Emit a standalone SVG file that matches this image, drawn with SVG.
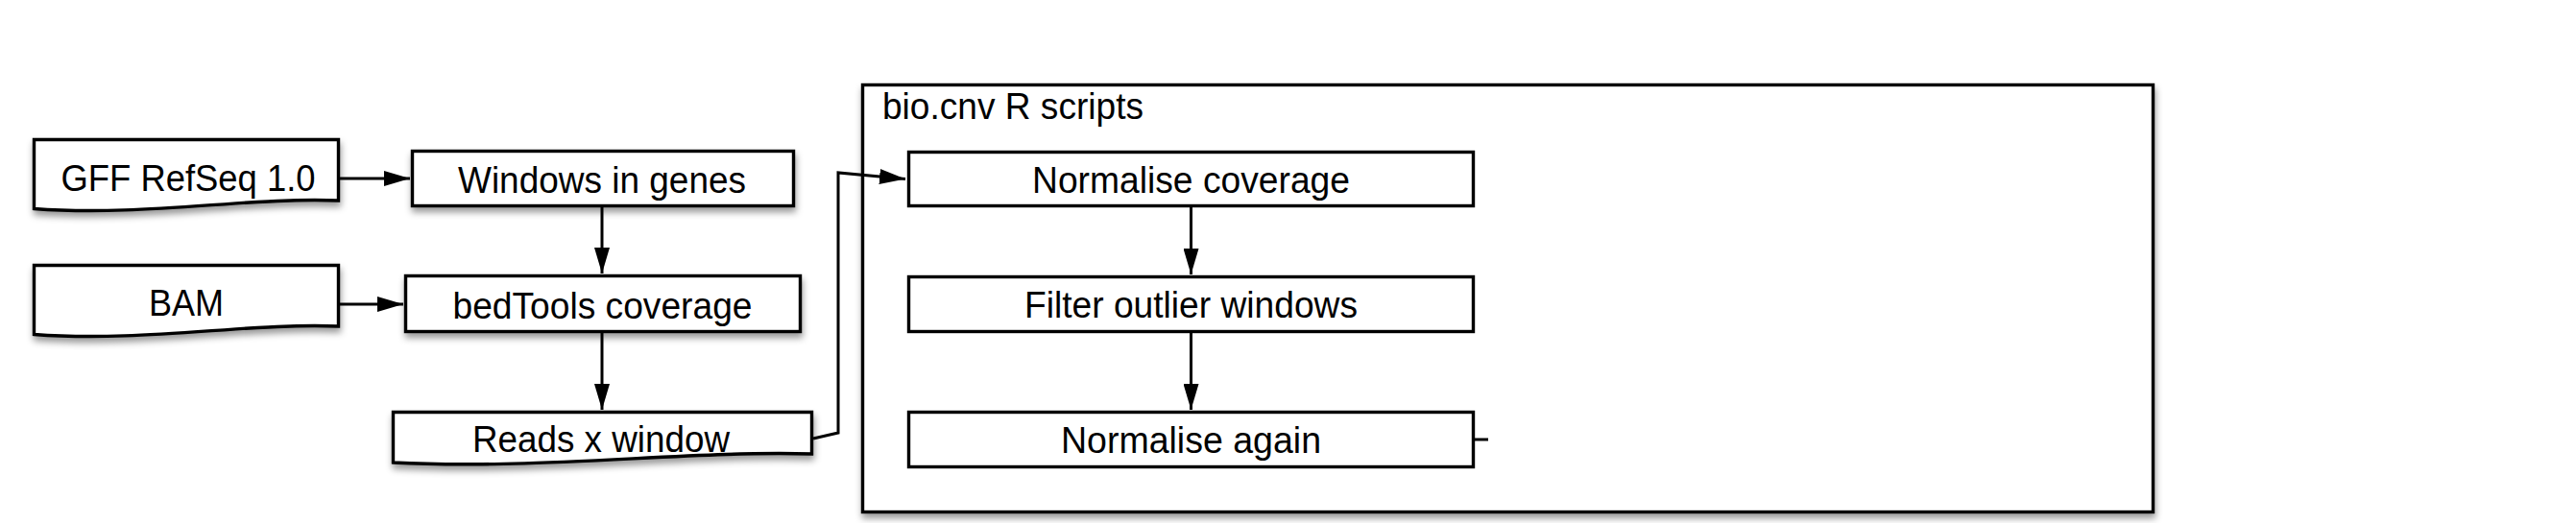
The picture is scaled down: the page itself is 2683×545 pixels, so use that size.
<svg xmlns="http://www.w3.org/2000/svg" width="2683" height="545" viewBox="0 0 2683 545">
<style>
.node{fill:#fff;stroke:#000;stroke-width:3.4;stroke-linejoin:miter}
.sh{filter:url(#shadow)}
.lbl{font-family:"Liberation Sans",Arial,Helvetica,sans-serif;font-size:38px;fill:#000;text-anchor:middle}
.edge{fill:none;stroke:#000;stroke-width:3}
.arr{marker-end:url(#ah)}
</style>
<defs>
<filter id="shadow" x="-10%" y="-20%" width="125%" height="160%">
<feDropShadow dx="1" dy="5" stdDeviation="3.5" flood-color="#000" flood-opacity="0.4"/>
</filter>
<marker id="ah" markerUnits="userSpaceOnUse" markerWidth="28" markerHeight="16" refX="27" refY="8" orient="auto">
<path d="M0,0 L27,8 L0,16 Z" fill="#000"/>
</marker>
</defs>
<rect width="2683" height="545" fill="#fff"/>

<g id="container">
<rect class="node sh" x="898.5" y="88.5" width="1344" height="445"/>
<text class="lbl" style="text-anchor:start" x="919" y="124" textLength="272" lengthAdjust="spacingAndGlyphs">bio.cnv R scripts</text>
</g>

<g id="gff">
<path class="node sh" d="M35.5,145.5 H352.5 V209 C260,205 150,226 35.5,217.5 Z"/>
<text class="lbl" x="196" y="199" textLength="265" lengthAdjust="spacingAndGlyphs">GFF RefSeq 1.0</text>
</g>

<g id="bam">
<path class="node sh" d="M35.5,276.5 H352.5 V340 C260,336 150,357 35.5,348.5 Z"/>
<text class="lbl" x="194" y="329" textLength="78" lengthAdjust="spacingAndGlyphs">BAM</text>
</g>

<g id="windows">
<rect class="node sh" x="429.5" y="157.5" width="397" height="57"/>
<text class="lbl" x="627" y="201" textLength="300" lengthAdjust="spacingAndGlyphs">Windows in genes</text>
</g>

<g id="bedtools">
<rect class="node sh" x="422.5" y="287.5" width="411" height="58"/>
<text class="lbl" x="627.5" y="332" textLength="312" lengthAdjust="spacingAndGlyphs">bedTools coverage</text>
</g>

<g id="reads">
<path class="node sh" d="M409.5,429.5 H845.5 V473 C720,469 560,490 409.5,482 Z"/>
<text class="lbl" x="626" y="471" textLength="268" lengthAdjust="spacingAndGlyphs">Reads x window</text>
</g>

<g id="normcov">
<rect class="node" x="946.5" y="158.5" width="588" height="56"/>
<text class="lbl" x="1240.5" y="201" textLength="331" lengthAdjust="spacingAndGlyphs">Normalise coverage</text>
</g>

<g id="filter">
<rect class="node" x="946.5" y="288.5" width="588" height="57"/>
<text class="lbl" x="1240.5" y="331" textLength="347" lengthAdjust="spacingAndGlyphs">Filter outlier windows</text>
</g>

<g id="normagain">
<rect class="node" x="946.5" y="429.5" width="588" height="57"/>
<text class="lbl" x="1240.5" y="472" textLength="271" lengthAdjust="spacingAndGlyphs">Normalise again</text>
</g>

<g id="connectors">
<path class="edge arr" d="M354,186 L427,186"/>
<path class="edge arr" d="M354,317 L420,317"/>
<path class="edge arr" d="M627,216 L627,285"/>
<path class="edge arr" d="M627,347 L627,427"/>
<path class="edge arr" d="M847,457 L873,451 L873,180 L943,186.5"/>
<path class="edge arr" d="M1240.5,216 L1240.5,286"/>
<path class="edge arr" d="M1240.5,347 L1240.5,427"/>
<path class="edge" d="M1536,458 L1550,458"/>
</g>
</svg>
